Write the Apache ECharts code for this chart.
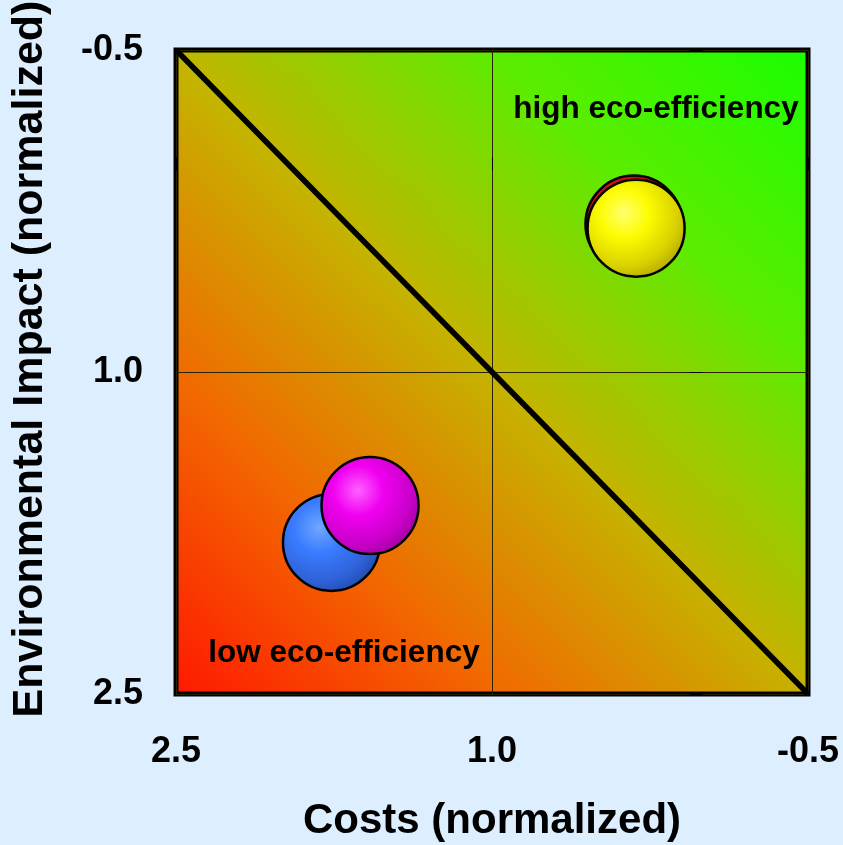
<!DOCTYPE html>
<html>
<head>
<meta charset="utf-8">
<script src="https://cdn.jsdelivr.net/npm/echarts@6/dist/echarts.min.js"></script>
<style>
  html, body { margin: 0; padding: 0; background: #ddeeff; }
  #chart { width: 843px; height: 845px; }
</style>
</head>
<body>
<div id="chart"></div>
<script>
// ---- data ----
var xTickValues = [2.5, 1.0, -0.5];
var yTickValues = [-0.5, 1.0, 2.5];
var diagonalLine = [[2.5, -0.5], [-0.5, 2.5]];
var redBubble = [[0.326, 0.311]];
var yellowBubble = [[0.316, 0.33]];
var blueBubble = [[1.762, 1.794]];
var magentaBubble = [[1.579, 1.622]];
var xTitle = 'Costs (normalized)';
var yTitle = 'Environmental Impact (normalized)';
var highLabel = 'high eco-efficiency';
var lowLabel = 'low eco-efficiency';

function ball(c0, c1, c2, c3) {
  return {
    type: 'radial', x: 0.38, y: 0.35, r: 0.72,
    colorStops: [
      { offset: 0, color: c0 },
      { offset: 0.35, color: c1 },
      { offset: 0.75, color: c2 },
      { offset: 1, color: c3 }
    ]
  };
}

var chart = echarts.init(document.getElementById('chart'), null, { renderer: 'canvas' });
var FONT = 'Liberation Sans, Arial, sans-serif';

function bubbleSeries(name, data, color) {
  return {
    name: name, type: 'scatter', data: data, symbol: 'circle', symbolSize: 97,
    itemStyle: { color: color, borderColor: '#000', borderWidth: 2.5, opacity: 1 },
    emphasis: { disabled: true }, z: 5
  };
}

chart.setOption({
  backgroundColor: '#ddeeff',
  animation: false,
  grid: {
    left: 176, top: 50, width: 632, height: 644,
    outerBoundsMode: 'none',
    containLabel: false,
    show: true,
    borderColor: '#000', borderWidth: 5,
    backgroundColor: {
      type: 'linear', x: 0, y: 1, x2: 1, y2: 0,
      colorStops: [
        { offset: 0, color: '#ff1800' },
        { offset: 0.25, color: '#f26800' },
        { offset: 0.5, color: '#c4b400' },
        { offset: 0.75, color: '#5cec00' },
        { offset: 1, color: '#1aff00' }
      ]
    }
  },
  xAxis: {
    type: 'value', inverse: true, min: -0.5, max: 2.5, interval: 1.5,
    name: xTitle, nameLocation: 'middle', nameGap: 106,
    nameTextStyle: { fontFamily: FONT, fontWeight: 'bold', fontSize: 42, color: '#000' },
    axisLine: { show: false },
    axisTick: { show: true, length: 13, lineStyle: { color: '#000', width: 1 } },
    axisLabel: {
      margin: 40, fontFamily: FONT, fontWeight: 'bold', fontSize: 36, color: '#000',
      formatter: function (v) { return v.toFixed(1); }
    },
    splitLine: { show: true, lineStyle: { color: '#262200', width: 1 } }
  },
  yAxis: {
    type: 'value', inverse: true, min: -0.5, max: 2.5, interval: 1.5,
    axisLine: { show: false },
    axisTick: { show: true, length: 13, lineStyle: { color: '#000', width: 1 } },
    axisLabel: {
      margin: 33, fontFamily: FONT, fontWeight: 'bold', fontSize: 36, color: '#000',
      formatter: function (v) { return v.toFixed(1); }
    },
    splitLine: { show: true, lineStyle: { color: '#262200', width: 1 } }
  },
  graphic: [
    {
      type: 'text', x: 30, y: 359, rotation: Math.PI / 2,
      style: { text: yTitle, fontFamily: FONT, fontWeight: 'bold', fontSize: 43, fill: '#000',
               align: 'center', verticalAlign: 'middle' }
    },
    {
      type: 'text', x: 656, y: 109, z: 10,
      style: { text: highLabel, fontFamily: FONT, fontWeight: 'bold', fontSize: 31.5, fill: '#000',
               align: 'center', verticalAlign: 'middle' }
    },
    {
      type: 'text', x: 344, y: 653, z: 10,
      style: { text: lowLabel, fontFamily: FONT, fontWeight: 'bold', fontSize: 31.5, fill: '#000',
               align: 'center', verticalAlign: 'middle' }
    }
  ],
  series: [
    {
      name: 'diagonal', type: 'line', data: diagonalLine, symbol: 'none',
      lineStyle: { color: '#000', width: 5.5 }, silent: true, z: 3
    },
    bubbleSeries('red', redBubble, ball('#ff6060', '#e01010', '#c00000', '#900000')),
    bubbleSeries('yellow', yellowBubble, ball('#ffff70', '#fcfc00', '#d8d000', '#aea400')),
    bubbleSeries('blue', blueBubble, ball('#70a8ff', '#3a7cff', '#2f62d8', '#1f48a8')),
    bubbleSeries('magenta', magentaBubble, ball('#ff60ff', '#f000f0', '#c800c8', '#9a009a'))
  ]
});
</script>
</body>
</html>
